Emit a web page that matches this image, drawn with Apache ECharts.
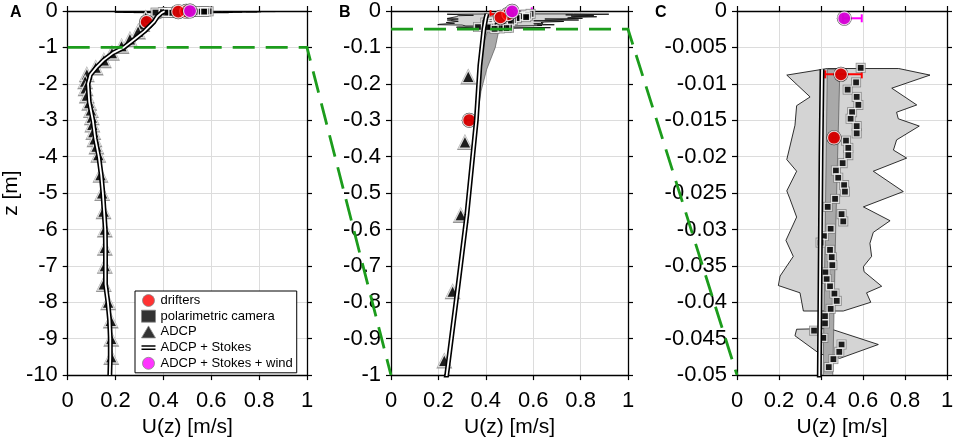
<!DOCTYPE html>
<html lang="en">
<head>
<meta charset="UTF-8">
<title>Velocity profiles</title>
<style>
    html, body { margin: 0; padding: 0; background: #fff; }
    #chart { width: 957px; height: 443px; }
</style>
<script src="https://cdn.jsdelivr.net/npm/echarts@6.0.0/dist/echarts.min.js"></script>
</head>
<body>
<div id="chart"></div>
<script>
    // panels: A full depth, B top metre, C top 5 cm
    var panelNames = ['A', 'B', 'C'];
    var panelMin = [-10, -1, -0.05];
    var panelStep = [1, 0.1, 0.005];
    var uTicks = [0, 0.2, 0.4, 0.6, 0.8, 1];

    // ADCP bins (triangles)
    var adcpZ = [-0.18, -0.36, -0.56, -0.77, -0.96, -1.15, -1.35, -1.55, -1.74, -1.93, -2.12, -2.32, -2.52, -2.72,
                 -2.92, -3.12, -3.32, -3.52, -3.72, -3.95, -4.5, -5, -5.5, -6, -6.5, -7, -7.5, -8, -8.5, -9, -9.5];
    var adcpU = [0.326, 0.312, 0.294, 0.26, 0.225, 0.185, 0.151, 0.117, 0.08, 0.073, 0.075, 0.08, 0.09, 0.097,
                 0.101, 0.103, 0.107, 0.112, 0.12, 0.128, 0.137, 0.144, 0.15, 0.155, 0.155, 0.155, 0.151, 0.169, 0.18, 0.182, 0.182];

    // ADCP + Stokes profile
    var stokesZ = [-0.008, -0.02, -0.05, -0.15, -0.3, -0.56, -0.77, -1.0, -1.15, -1.35, -1.55, -1.75, -2.0, -2.5,
                   -3.0, -3.5, -4.0, -4.5, -5, -5.5, -6, -6.5, -7, -7.5, -8, -8.5, -9, -9.5, -10];
    var stokesU = [0.405, 0.4, 0.392, 0.375, 0.36, 0.32, 0.28, 0.235, 0.19, 0.15, 0.12, 0.095, 0.085, 0.09,
                   0.105, 0.115, 0.13, 0.14, 0.147, 0.152, 0.157, 0.158, 0.158, 0.158, 0.168, 0.175, 0.178, 0.178, 0.176];

    // uncertainty band of ADCP + Stokes
    var bandZ = [-0.008, -0.03, -0.05, -0.1, -0.16, -0.22, -0.3];
    var bandLo = [0.43, 0.42, 0.41, 0.385, 0.372, 0.366, 0.36];
    var bandHi = [0.49, 0.47, 0.456, 0.44, 0.404, 0.38, 0.362];

    // polarimetric camera (squares)
    var cameraZ = [-0.0078, -0.0098, -0.0108, -0.0118, -0.0129, -0.0139, -0.0148, -0.0158, -0.0168, -0.0178, -0.0188,
                   -0.0198, -0.0209, -0.0219, -0.0229, -0.0239, -0.0248, -0.0258, -0.0269, -0.0279, -0.0289, -0.0299,
                   -0.0309, -0.0318, -0.0328, -0.0338, -0.0349, -0.0359, -0.0368, -0.0378, -0.0388, -0.0398, -0.0409,
                   -0.0419, -0.0429, -0.0439, -0.0449, -0.0458, -0.0468, -0.0478, -0.0489];
    var cameraU = [0.589, 0.567, 0.527, 0.570, 0.578, 0.548, 0.541, 0.570, 0.570, 0.519, 0.530,
                   0.530, 0.503, 0.471, 0.482, 0.510, 0.514, 0.467, 0.432, 0.498, 0.506, 0.446,
                   0.414, 0.398, 0.443, 0.451, 0.454, 0.421, 0.427, 0.443, 0.464, 0.475, 0.446,
                   0.419, 0.419, 0.367, 0.411, 0.498, 0.487, 0.459, 0.437];

    // camera spread outline (two patches)
    var spreadU = [0.43, 0.77, 0.919, 0.737, 0.856, 0.76, 0.768, 0.868, 0.76, 0.745, 0.808, 0.649, 0.792, 0.602,
                   0.729, 0.649, 0.633, 0.641, 0.602, 0.605, 0.689, 0.617, 0.637, 0.506, 0.316, 0.30, 0.197, 0.205,
                   0.268, 0.233, 0.284, 0.252, 0.237, 0.284, 0.237, 0.276, 0.284, 0.348, 0.237];
    var spreadZ = [-0.0079, -0.0079, -0.0088, -0.0106, -0.0129, -0.0139, -0.0148, -0.0158, -0.0177, -0.0191, -0.0202,
                   -0.022, -0.0248, -0.0269, -0.0288, -0.0304, -0.0319, -0.0337, -0.0351, -0.0358, -0.0378, -0.0387,
                   -0.040, -0.0412, -0.0412, -0.0387, -0.0377, -0.0364, -0.0337, -0.0315, -0.0283, -0.0258, -0.0247,
                   -0.022, -0.0204, -0.0157, -0.013, -0.0118, -0.0088];
    var spread2U = [0.284, 0.44, 0.673, 0.49, 0.395, 0.276];
    var spread2Z = [-0.0437, -0.0436, -0.0458, -0.0477, -0.0471, -0.0446];

    // drifters
    var drifterZ = [-0.0087, -0.0174, -0.3];
    var drifterU = [0.495, 0.462, 0.33];
    var drifterLo = [0.42, 0.455, 0.315];
    var drifterHi = [0.594, 0.47, 0.34];

    // ADCP + Stokes + wind
    var windZ = [-0.001];
    var windU = [0.511];
    var windLo = [0.505];
    var windHi = [0.594];

    var FONT = 'Liberation Sans';
    var GREEN = '#1c9c1c';

    function pairs(us, zs) {
        return us.map(function (u, k) { return [u, zs[k]]; });
    }

    var axisLine = {onZero: false, lineStyle: {color: '#000', width: 1.3}};
    var axisTick = {length: 5, lineStyle: {color: '#000', width: 1.2}};

    var grids = [
        {left: 62, top: 11, width: 245, height: 369},
        {left: 391, top: 11, width: 237, height: 369},
        {left: 737, top: 11, width: 210, height: 369}
    ];

    var xAxes = [], yAxes = [], series = [];

    panelNames.forEach(function (pn, i) {
        xAxes.push({
            gridIndex: i, type: 'value', min: 0, max: 1, interval: 0.2, position: 'bottom',
            name: 'U(z) [m/s]', nameLocation: 'middle', nameGap: 34,
            nameTextStyle: {fontSize: 21, color: '#000', fontFamily: FONT},
            axisLine: axisLine, axisTick: axisTick,
            axisLabel: {margin: 15, fontSize: 22, color: '#000', fontFamily: FONT,
                        formatter: function (v) { return uTicks.indexOf(Math.round(v * 10) / 10) >= 0 ? String(Math.round(v * 10) / 10) : ''; }},
            splitLine: {show: true, lineStyle: {color: '#dcdcdc', width: 1}}
        });
        xAxes.push({
            gridIndex: i, type: 'value', min: 0, max: 1, interval: 0.2, position: 'top',
            axisLine: axisLine, axisTick: axisTick, axisLabel: {show: false}, splitLine: {show: false}
        });
        yAxes.push({
            gridIndex: i, type: 'value', min: panelMin[i], max: 0, interval: panelStep[i], position: 'left',
            name: i === 0 ? 'z [m]' : '', nameLocation: 'middle', nameGap: 35, nameRotate: 90,
            nameTextStyle: {fontSize: 21, color: '#000', fontFamily: FONT},
            axisLine: axisLine, axisTick: axisTick,
            axisLabel: {margin: 10, fontSize: 22, color: '#000', fontFamily: FONT},
            splitLine: {show: true, lineStyle: {color: '#dcdcdc', width: 1}}
        });
        yAxes.push({
            gridIndex: i, type: 'value', min: panelMin[i], max: 0, interval: panelStep[i], position: 'right',
            axisLine: axisLine, axisTick: axisTick, axisLabel: {show: false}, splitLine: {show: false}
        });

        var xi = 2 * i, yi = 2 * i;

        // camera spread
        series.push({
            type: 'custom', name: 'spread', xAxisIndex: xi, yAxisIndex: yi, clip: true, silent: true,
            data: [[0, 0]],
            renderItem: function (params, api) {
                var p1 = pairs(spreadU, spreadZ).map(function (p) { return api.coord(p); });
                var p2 = pairs(spread2U, spread2Z).map(function (p) { return api.coord(p); });
                var st = {fill: '#d4d4d4', stroke: '#000', lineWidth: 0.8};
                return {type: 'group', children: [
                    {type: 'polygon', shape: {points: p1}, style: st},
                    {type: 'polygon', shape: {points: p2}, style: st}
                ]};
            }
        });
        // uncertainty band
        series.push({
            type: 'custom', name: 'band', xAxisIndex: xi, yAxisIndex: yi, clip: true, silent: true,
            data: [[0, 0]],
            renderItem: function (params, api) {
                var pts = [];
                bandZ.forEach(function (z, k) { pts.push(api.coord([bandHi[k], z])); });
                for (var k = bandZ.length - 1; k >= 0; k--) pts.push(api.coord([bandLo[k], bandZ[k]]));
                return {type: 'polygon', shape: {points: pts},
                        style: {fill: '#a9a9a9', stroke: '#444', lineWidth: 0.6}};
            }
        });
        // ADCP + Stokes double line
        series.push({
            type: 'line', name: 'ADCP + Stokes', xAxisIndex: xi, yAxisIndex: yi,
            data: pairs(stokesU, stokesZ), showSymbol: false, symbol: 'none',
            lineStyle: {color: '#000', width: 5}, itemStyle: {color: '#000'}
        });
        series.push({
            type: 'line', name: 'stokesInner', xAxisIndex: xi, yAxisIndex: yi,
            data: pairs(stokesU, stokesZ), showSymbol: false, symbol: 'none',
            lineStyle: {color: '#fff', width: 1.8}
        });
        // ADCP triangles
        series.push({
            type: 'scatter', name: 'adcpShade', xAxisIndex: xi, yAxisIndex: yi,
            data: pairs(adcpU, adcpZ), symbol: 'triangle', symbolSize: 16,
            itemStyle: {color: '#7a7a7a'}
        });
        series.push({
            type: 'scatter', name: 'ADCP', xAxisIndex: xi, yAxisIndex: yi,
            data: pairs(adcpU, adcpZ), symbol: 'triangle', symbolSize: 12,
            itemStyle: {color: '#000', borderColor: '#fff', borderWidth: 1.2}
        });
        // camera squares
        series.push({
            type: 'scatter', name: 'cameraShade', xAxisIndex: xi, yAxisIndex: yi,
            data: pairs(cameraU, cameraZ), symbol: 'rect', symbolSize: 10,
            itemStyle: {color: '#7a7a7a'}
        });
        series.push({
            type: 'scatter', name: 'polarimetric camera', xAxisIndex: xi, yAxisIndex: yi,
            data: pairs(cameraU, cameraZ), symbol: 'rect', symbolSize: 7,
            itemStyle: {color: '#000', borderColor: '#fff', borderWidth: 1.3}
        });
        // error bars
        var errData = drifterZ.map(function (z, k) { return [drifterLo[k], drifterHi[k], z, 0]; })
            .concat(windZ.map(function (z, k) { return [windLo[k], windHi[k], z, 1]; }));
        series.push({
            type: 'custom', name: 'errors', xAxisIndex: xi, yAxisIndex: yi, clip: false, silent: true,
            data: errData, encode: {x: [0, 1], y: 2},
            renderItem: function (params, api) {
                var a = api.coord([api.value(0), api.value(2)]);
                var b = api.coord([api.value(1), api.value(2)]);
                var col = api.value(3) === 1 ? '#ff00ff' : '#ff0000';
                var st = {stroke: col, lineWidth: 2};
                return {type: 'group', children: [
                    {type: 'line', shape: {x1: a[0], y1: a[1], x2: b[0], y2: b[1]}, style: st},
                    {type: 'line', shape: {x1: a[0], y1: a[1] - 4, x2: a[0], y2: a[1] + 4}, style: st},
                    {type: 'line', shape: {x1: b[0], y1: b[1] - 4, x2: b[0], y2: b[1] + 4}, style: st}
                ]};
            }
        });
        // drifters
        series.push({
            type: 'scatter', name: 'drifterShade', xAxisIndex: xi, yAxisIndex: yi,
            data: pairs(drifterU, drifterZ), symbol: 'circle', symbolSize: 15,
            itemStyle: {color: '#000'}
        });
        series.push({
            type: 'scatter', name: 'drifters', xAxisIndex: xi, yAxisIndex: yi,
            data: pairs(drifterU, drifterZ), symbol: 'circle', symbolSize: 13,
            itemStyle: {color: '#ff0000', borderColor: '#fff', borderWidth: 1.2}
        });
        // ADCP + Stokes + wind
        series.push({
            type: 'scatter', name: 'windShade', xAxisIndex: xi, yAxisIndex: yi,
            data: pairs(windU, windZ), symbol: 'circle', symbolSize: 15,
            itemStyle: {color: '#000'}
        });
        series.push({
            type: 'scatter', name: 'ADCP + Stokes + wind', xAxisIndex: xi, yAxisIndex: yi,
            data: pairs(windU, windZ), symbol: 'circle', symbolSize: 13,
            itemStyle: {color: '#ff00ff', borderColor: '#fff', borderWidth: 1.2}
        });
    });

    var chart = echarts.init(document.getElementById('chart'));
    var option = {
        animation: false,
        textStyle: {fontFamily: FONT},
        grid: grids,
        xAxis: xAxes,
        yAxis: yAxes,
        legend: {
            orient: 'vertical', left: 135, top: 291,
            padding: [3, 4, 3, 6], itemGap: 2.7, itemWidth: 14, itemHeight: 12,
            backgroundColor: '#fff', borderColor: '#000', borderWidth: 1,
            selectedMode: false,
            textStyle: {fontSize: 13, color: '#000', fontFamily: FONT},
            data: [
                {name: 'drifters', icon: 'circle', itemStyle: {color: '#ff0000', borderColor: '#888', borderWidth: 1}},
                {name: 'polarimetric camera', icon: 'rect', itemStyle: {color: '#000', borderColor: '#888', borderWidth: 1}},
                {name: 'ADCP', icon: 'triangle', itemStyle: {color: '#000', borderColor: '#888', borderWidth: 1}},
                {name: 'ADCP + Stokes', icon: 'path://M0,0H24V2.4H0Z M0,5.6H24V8H0Z', itemStyle: {color: '#000', borderWidth: 0}},
                {name: 'ADCP + Stokes + wind', icon: 'circle', itemStyle: {color: '#ff00ff', borderColor: '#888', borderWidth: 1}}
            ]
        },
        graphic: panelNames.map(function (pn, i) {
            return {type: 'text', left: [10, 339, 655][i], top: 5,
                    style: {text: pn, font: 'bold 16px "Liberation Sans"', fill: '#000'}};
        }),
        series: series
    };
    chart.setOption(option);

    // dashed connectors: the zoomed depth range of the next panel
    var connectors = [];
    for (var k = 0; k < panelNames.length - 1; k++) {
        var depth = panelMin[k + 1];
        var pts = [
            chart.convertToPixel({xAxisIndex: 2 * k, yAxisIndex: 2 * k}, [0, depth]),
            chart.convertToPixel({xAxisIndex: 2 * k, yAxisIndex: 2 * k}, [1, depth]),
            chart.convertToPixel({xAxisIndex: 2 * (k + 1), yAxisIndex: 2 * (k + 1)}, [0, panelMin[k + 1]])
        ];
        connectors.push({
            type: 'polyline', z: 100, silent: true,
            shape: {points: pts},
            style: {stroke: GREEN, lineWidth: 2.8, lineDash: [22, 11], fill: null}
        });
    }
    chart.setOption({graphic: option.graphic.concat(connectors)});
</script>
</body>
</html>
